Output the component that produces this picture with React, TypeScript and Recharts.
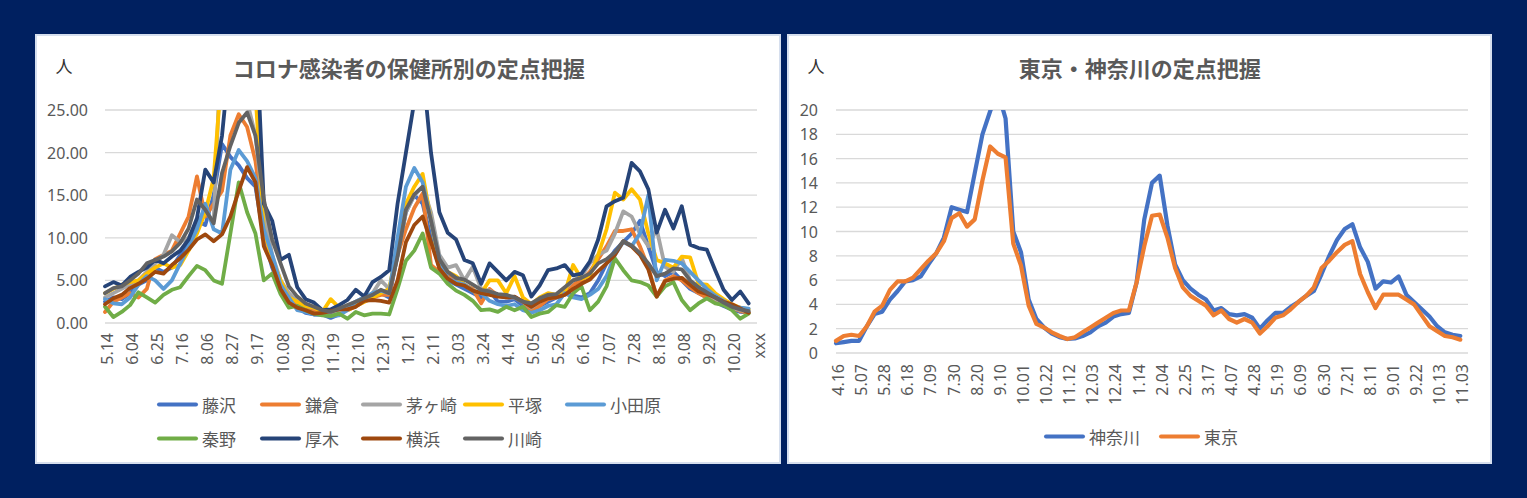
import React from 'react';
import { LineChart, Line, XAxis, YAxis, CartesianGrid } from 'recharts';

// ---------- Left chart data ----------
const leftDates = [
  '5.14','5.21','5.28','6.04','6.11','6.18','6.25','7.02','7.09','7.16',
  '7.23','7.30','8.06','8.13','8.20','8.27','9.03','9.10','9.17','9.24',
  '10.01','10.08','10.15','10.22','10.29','11.05','11.12','11.19','11.26','12.03',
  '12.10','12.17','12.24','12.31','1.07','1.14','1.21','1.28','2.04','2.11',
  '2.18','2.25','3.03','3.10','3.17','3.24','3.31','4.07','4.14','4.21',
  '4.28','5.05','5.12','5.19','5.26','6.02','6.09','6.16','6.23','6.30',
  '7.07','7.14','7.21','7.28','8.04','8.11','8.18','8.25','9.01','9.08',
  '9.15','9.22','9.29','10.06','10.13','10.20','10.27','11.03','xxx',
];

const fujisawa = [
  2.5,3.0,2.8,3.5,4.5,5.0,6.5,6.0,6.5,8.0,
  9.5,12.0,11.5,15.0,21.0,19.5,18.5,17.0,16.0,10.0,
  6.5,4.0,2.5,1.8,1.2,1.0,1.0,0.6,1.0,2.0,
  2.5,3.0,3.2,3.5,3.0,8.0,13.0,15.0,14.0,10.0,
  6.5,5.0,4.5,4.0,3.5,3.0,3.8,2.5,2.5,2.8,
  2.0,1.5,2.0,2.5,3.0,3.5,3.2,3.0,3.5,5.0,
  7.0,8.5,9.5,10.5,12.0,9.0,6.0,5.5,6.0,5.0,
  4.0,3.5,3.0,2.5,2.0,1.6,1.3,1.2,
];
const kamakura = [
  1.3,2.5,3.0,3.5,3.0,4.0,7.5,8.0,8.5,10.5,
  12.5,17.2,12.5,14.0,15.5,22.0,24.5,23.0,19.0,11.0,
  7.0,4.5,3.0,2.0,1.8,1.5,1.3,1.2,1.2,1.5,
  2.0,2.5,3.0,3.3,3.3,8.0,11.0,13.5,15.2,6.8,
  6.0,5.5,5.0,4.5,4.0,2.3,4.0,3.2,3.0,3.0,
  2.5,1.5,2.0,2.8,3.0,3.5,4.5,5.0,6.0,7.5,
  9.0,10.8,10.8,11.0,9.0,6.5,3.1,5.0,5.5,5.0,
  4.2,3.5,3.0,2.6,2.2,1.8,1.4,1.2,
];
const chigasaki = [
  3.0,3.5,4.0,4.5,5.0,6.0,7.0,8.0,10.3,9.5,
  10.0,12.0,13.0,12.0,35.0,30.0,27.0,26.0,22.0,13.0,
  8.0,5.0,3.5,2.5,2.0,1.8,1.5,1.2,1.4,1.8,
  2.2,2.8,3.5,5.0,4.0,8.0,13.0,15.0,16.0,13.0,
  8.0,6.5,6.8,5.0,6.6,4.0,3.8,3.2,3.0,3.0,
  2.5,1.8,2.5,3.0,3.2,4.0,5.0,5.5,7.0,8.0,
  8.5,10.5,13.1,12.5,10.5,9.0,11.0,6.6,6.0,7.6,
  5.0,4.2,3.5,2.8,2.3,1.8,1.5,1.3,
];
const hiratsuka = [
  3.5,4.0,4.5,4.8,5.0,5.8,6.5,7.0,6.5,6.8,
  8.5,10.5,13.0,17.0,30.0,33.0,30.0,28.0,27.0,11.0,
  7.5,5.0,3.0,2.5,2.0,1.8,1.3,2.8,1.8,1.5,
  2.0,2.5,3.0,3.5,4.0,9.0,14.0,16.0,17.5,12.0,
  7.0,6.0,5.5,4.5,3.8,3.5,5.0,5.0,3.5,5.5,
  3.0,2.2,3.0,3.5,3.3,3.5,6.8,5.2,5.5,8.0,
  11.0,15.3,14.5,15.7,14.5,10.5,7.4,7.0,6.5,7.8,
  7.7,4.6,4.5,3.5,2.8,2.2,1.8,1.6,
];
const odawara = [
  2.8,2.3,2.2,3.0,4.5,5.5,5.0,4.0,5.0,7.0,
  9.0,11.0,14.0,11.0,10.5,18.0,20.3,19.0,17.0,11.0,
  8.0,4.5,3.0,1.5,1.3,1.0,1.0,0.8,0.9,1.5,
  2.5,3.0,3.5,3.8,3.5,10.0,16.0,18.2,16.5,12.0,
  7.5,5.2,4.8,4.5,3.8,3.5,2.6,2.2,2.0,2.2,
  1.5,1.2,1.5,2.0,2.2,3.5,3.0,2.8,3.3,4.0,
  5.5,8.0,9.5,9.0,10.5,15.0,5.0,7.4,7.3,7.0,
  6.0,5.0,4.0,3.2,2.6,2.0,1.8,1.7,
];
const hadano = [
  1.9,0.7,1.3,2.1,3.6,3.0,2.4,3.3,3.9,4.2,
  5.5,6.7,6.2,5.0,4.6,10.5,16.5,13.0,10.5,5.0,
  5.8,3.4,1.8,2.0,1.5,1.1,0.9,0.8,1.1,0.5,
  1.3,0.9,1.1,1.1,1.0,4.0,7.3,8.5,10.5,6.5,
  5.8,4.6,3.8,3.3,2.6,1.5,1.6,1.3,1.9,1.5,
  1.9,0.7,1.1,1.3,2.1,1.9,3.5,4.3,1.5,2.5,
  4.3,7.6,6.2,5.0,4.8,4.4,3.1,4.3,4.8,2.7,
  1.5,2.3,2.9,2.3,2.1,1.5,0.5,1.1,
];
const atsugi = [
  4.3,4.8,4.4,5.4,6.0,6.5,7.4,7.0,7.8,8.5,
  9.8,12.3,18.0,16.5,22.0,32.0,33.0,32.0,36.0,14.0,
  12.0,7.4,8.0,4.2,2.8,2.4,1.5,1.6,2.1,2.7,
  3.9,3.1,4.8,5.4,6.2,14.0,20.0,26.0,30.0,20.0,
  13.0,10.6,9.8,7.4,7.0,4.6,7.0,6.0,5.0,6.0,
  5.6,3.1,4.4,6.2,6.4,6.8,5.6,5.8,7.2,9.8,
  13.7,14.3,14.7,18.8,17.8,15.7,10.6,13.3,11.1,13.7,
  9.2,8.8,8.6,6.2,3.9,2.7,3.7,2.3,
];
const yokohama = [
  2.2,2.9,3.3,4.1,4.6,5.2,6.0,5.8,6.8,7.6,
  8.6,9.8,10.4,9.6,10.4,12.5,15.5,18.3,16.5,9.0,
  6.8,4.0,2.4,1.8,1.5,1.1,1.2,1.4,1.6,1.6,
  1.9,2.6,2.7,2.6,2.4,5.0,9.5,11.5,12.5,9.5,
  6.4,5.2,4.6,4.4,3.8,3.5,3.3,3.1,3.0,3.1,
  2.5,1.9,2.5,2.9,3.0,3.3,4.0,4.6,5.1,6.1,
  7.0,8.0,9.6,9.0,8.0,6.3,3.1,4.9,5.2,5.3,
  4.5,3.7,3.4,3.0,2.5,2.2,1.7,1.2,
];
const kawasaki = [
  3.5,4.1,4.3,5.0,5.8,7.0,7.4,7.8,8.4,9.4,
  11.1,14.5,13.3,11.7,17.6,20.8,23.5,24.7,22.0,14.5,
  9.8,7.0,4.3,3.1,2.3,1.9,1.5,1.3,1.7,2.1,
  2.5,2.9,3.3,3.9,3.5,7.8,13.3,15.1,16.0,12.0,
  7.5,6.0,5.3,5.1,4.5,3.9,3.7,3.4,3.3,3.0,
  2.5,2.3,2.9,3.3,3.4,4.2,5.0,5.3,5.8,7.0,
  7.5,8.3,9.6,9.1,8.2,7.0,5.5,5.8,6.4,6.3,
  5.0,4.2,3.6,3.0,2.4,1.9,1.6,1.4,
];

const leftTicks = [0, 5, 10, 15, 20, 25];

// ---------- Right chart data ----------
const rightDates = [
  '4.16','4.23','4.30','5.07','5.14','5.21','5.28','6.04','6.11','6.18',
  '6.25','7.02','7.09','7.16','7.23','7.30','8.06','8.13','8.20','8.27',
  '9.03','9.10','9.17','9.24','10.01','10.08','10.15','10.22','10.29','11.05',
  '11.12','11.19','11.26','12.03','12.10','12.17','12.24','12.31','1.07','1.14',
  '1.21','1.28','2.04','2.11','2.18','2.25','3.03','3.10','3.17','3.24',
  '3.31','4.07','4.14','4.21','4.28','5.05','5.12','5.19','5.26','6.02',
  '6.09','6.16','6.23','6.30','7.07','7.14','7.21','7.28','8.04','8.11',
  '8.18','8.25','9.01','9.08','9.15','9.22','9.29','10.06','10.13','10.20',
  '10.27','11.03',' ',
];
const kanagawa = [
  0.8,0.9,1.0,1.0,2.2,3.2,3.4,4.4,5.1,5.9,
  6.0,6.3,7.3,8.2,9.5,12.0,11.8,11.6,14.8,18.0,
  19.9,21.5,19.3,10.0,8.3,4.4,2.8,2.1,1.6,1.3,
  1.15,1.2,1.4,1.7,2.2,2.5,3.0,3.2,3.3,5.8,
  11.0,14.0,14.6,10.5,7.3,6.0,5.3,4.8,4.4,3.5,
  3.7,3.2,3.1,3.2,2.9,2.0,2.7,3.3,3.3,3.8,
  4.2,4.7,5.1,6.5,8.0,9.3,10.2,10.6,8.7,7.5,
  5.3,5.9,5.8,6.3,4.8,4.2,3.6,3.0,2.2,1.7,
  1.5,1.4,
];
const tokyo = [
  1.0,1.4,1.5,1.4,2.2,3.4,3.9,5.2,5.9,5.9,
  6.2,6.9,7.6,8.2,9.2,11.1,11.5,10.4,11.0,14.2,
  17.0,16.4,16.1,9.0,7.2,3.9,2.4,2.1,1.7,1.4,
  1.15,1.3,1.7,2.1,2.5,2.9,3.3,3.5,3.5,5.8,
  8.8,11.3,11.4,9.5,7.0,5.4,4.7,4.3,3.9,3.1,
  3.5,2.8,2.5,2.8,2.5,1.6,2.2,2.9,3.1,3.6,
  4.2,4.7,5.4,7.0,7.6,8.3,8.9,9.2,6.5,5.0,
  3.7,4.8,4.8,4.8,4.4,4.0,3.1,2.2,1.8,1.4,
  1.3,1.1,
];
const rightTicks = [0, 2, 4, 6, 8, 10, 12, 14, 16, 18, 20];

// ---------- Series definitions ----------
const leftSeries = [
  { key: 'fujisawa', name: '藤沢', color: '#4472C4', values: fujisawa },
  { key: 'kamakura', name: '鎌倉', color: '#ED7D31', values: kamakura },
  { key: 'chigasaki', name: '茅ヶ崎', color: '#A5A5A5', values: chigasaki },
  { key: 'hiratsuka', name: '平塚', color: '#FFC000', values: hiratsuka },
  { key: 'odawara', name: '小田原', color: '#5B9BD5', values: odawara },
  { key: 'hadano', name: '秦野', color: '#70AD47', values: hadano },
  { key: 'atsugi', name: '厚木', color: '#264478', values: atsugi },
  { key: 'yokohama', name: '横浜', color: '#9E480E', values: yokohama },
  { key: 'kawasaki', name: '川崎', color: '#636363', values: kawasaki },
];
const rightSeries = [
  { key: 'kanagawa', name: '神奈川', color: '#4472C4', values: kanagawa },
  { key: 'tokyo', name: '東京', color: '#ED7D31', values: tokyo },
];

function buildRows(dates: string[], series: { key: string; values: number[] }[]) {
  return dates.map((d, i) => {
    const row: Record<string, any> = { date: d };
    series.forEach((s) => {
      row[s.key] = i < s.values.length ? s.values[i] : null;
    });
    return row;
  });
}

const leftData = buildRows(leftDates, leftSeries);
const rightData = buildRows(rightDates, rightSeries);

const NUM_FONT = '"Noto Sans", sans-serif';
const JP_FONT = '"Noto Sans CJK JP", "Noto Sans", sans-serif';
const TEXT_GRAY = '#595959';

const makeYTick = (fmt: (v: number) => string) => (props: any) => {
  const { x, y, payload } = props;
  return (
    <text
      x={x}
      y={y}
      textAnchor="end"
      dominantBaseline="central"
      fill={TEXT_GRAY}
      fontSize={16}
      fontFamily={NUM_FONT}
    >
      {fmt(payload.value)}
    </text>
  );
};

const XTick = (props: any) => {
  const { x, y, payload } = props;
  return (
    <g transform={`translate(${x + 2},${y})`}>
      <text
        transform="rotate(-90)"
        textAnchor="end"
        dominantBaseline="central"
        fill={TEXT_GRAY}
        fontSize={16}
        fontFamily={NUM_FONT}
      >
        {payload.value}
      </text>
    </g>
  );
};

const panelStyle = (left: number, width: number): React.CSSProperties => ({
  position: 'absolute',
  left,
  top: 34,
  width,
  height: 430,
  background: '#ffffff',
  boxShadow: 'inset 0 0 0 2px #d6dfee',
});

const Title = ({ cx, text }: { cx: number; text: string }) => (
  <div
    style={{
      position: 'absolute',
      left: cx,
      top: 33,
      transform: 'translate(-50%, -50%)',
      whiteSpace: 'nowrap',
      fontFamily: JP_FONT,
      fontWeight: 700,
      fontSize: 22,
      lineHeight: 1,
      color: TEXT_GRAY,
    }}
  >
    {text}
  </div>
);

const Unit = () => (
  <div
    style={{
      position: 'absolute',
      left: 29,
      top: 31,
      transform: 'translate(-50%, -50%)',
      fontFamily: JP_FONT,
      fontSize: 17,
      lineHeight: 1,
      color: '#333333',
    }}
  >
    人
  </div>
);

const LegendItem = ({ x, y, color, name }: { x: number; y: number; color: string; name: string }) => (
  <div
    style={{
      position: 'absolute',
      left: x,
      top: y,
      transform: 'translateY(-50%)',
      display: 'flex',
      alignItems: 'center',
      whiteSpace: 'nowrap',
    }}
  >
    <div style={{ width: 41, height: 4, borderRadius: 2, background: color }} />
    <span
      style={{
        marginLeft: 4,
        fontFamily: JP_FONT,
        fontSize: 17,
        lineHeight: 1,
        color: TEXT_GRAY,
      }}
    >
      {name}
    </span>
  </div>
);

const leftLegendX = [122, 225, 326, 428, 530];
const leftLegendY = [370, 404];

export default function App() {
  return (
    <div
      style={{
        position: 'absolute',
        left: 0,
        top: 0,
        width: 1527,
        height: 498,
        background: '#002060',
        overflow: 'hidden',
      }}
    >
      {/* Left panel */}
      <div style={panelStyle(35, 746)}>
        <div style={{ position: 'absolute', left: 0, top: 0 }}>
          <LineChart
            width={746}
            height={430}
            data={leftData}
            margin={{ top: 76, right: 24, bottom: 81, left: 10 }}
          >
            <CartesianGrid vertical={false} stroke="#d9d9d9" strokeWidth={1.3} />
            <XAxis
              dataKey="date"
              scale="point"
              interval={2}
              axisLine={false}
              tickLine={false}
              tickSize={0}
              tickMargin={10}
              height={60}
              tick={XTick}
            />
            <YAxis
              type="number"
              domain={[0, 25]}
              ticks={leftTicks}
              allowDataOverflow
              axisLine={false}
              tickLine={false}
              tickSize={0}
              tickMargin={17}
              width={60}
              tick={makeYTick((v) => v.toFixed(2))}
            />
            {leftSeries.map((s) => (
              <Line
                key={s.key}
                type="linear"
                dataKey={s.key}
                name={s.name}
                stroke={s.color}
                strokeWidth={3.8}
                strokeLinejoin="round"
                strokeLinecap="round"
                dot={false}
                activeDot={false}
                isAnimationActive={false}
              />
            ))}
          </LineChart>
        </div>
        <Title cx={373.7} text="コロナ感染者の保健所別の定点把握" />
        <Unit />
        {leftSeries.map((s, i) => (
          <LegendItem
            key={s.key}
            x={leftLegendX[i % 5]}
            y={leftLegendY[Math.floor(i / 5)]}
            color={s.color}
            name={s.name}
          />
        ))}
      </div>

      {/* Right panel */}
      <div style={panelStyle(787, 705)}>
        <div style={{ position: 'absolute', left: 0, top: 0 }}>
          <LineChart
            width={705}
            height={430}
            data={rightData}
            margin={{ top: 76, right: 24, bottom: 51, left: 9 }}
          >
            <CartesianGrid vertical={false} stroke="#d9d9d9" strokeWidth={1.3} />
            <XAxis
              dataKey="date"
              scale="point"
              interval={2}
              axisLine={false}
              tickLine={false}
              tickSize={0}
              tickMargin={11}
              height={60}
              tick={XTick}
            />
            <YAxis
              type="number"
              domain={[0, 20]}
              ticks={rightTicks}
              allowDataOverflow
              axisLine={false}
              tickLine={false}
              tickSize={0}
              tickMargin={18}
              width={40}
              tick={makeYTick((v) => String(v))}
            />
            {rightSeries.map((s) => (
              <Line
                key={s.key}
                type="linear"
                dataKey={s.key}
                name={s.name}
                stroke={s.color}
                strokeWidth={4.2}
                strokeLinejoin="round"
                strokeLinecap="round"
                dot={false}
                activeDot={false}
                isAnimationActive={false}
              />
            ))}
          </LineChart>
        </div>
        <Title cx={352.7} text="東京・神奈川の定点把握" />
        <Unit />
        <LegendItem x={257} y={402} color={rightSeries[0].color} name={rightSeries[0].name} />
        <LegendItem x={372} y={402} color={rightSeries[1].color} name={rightSeries[1].name} />
      </div>
    </div>
  );
}
